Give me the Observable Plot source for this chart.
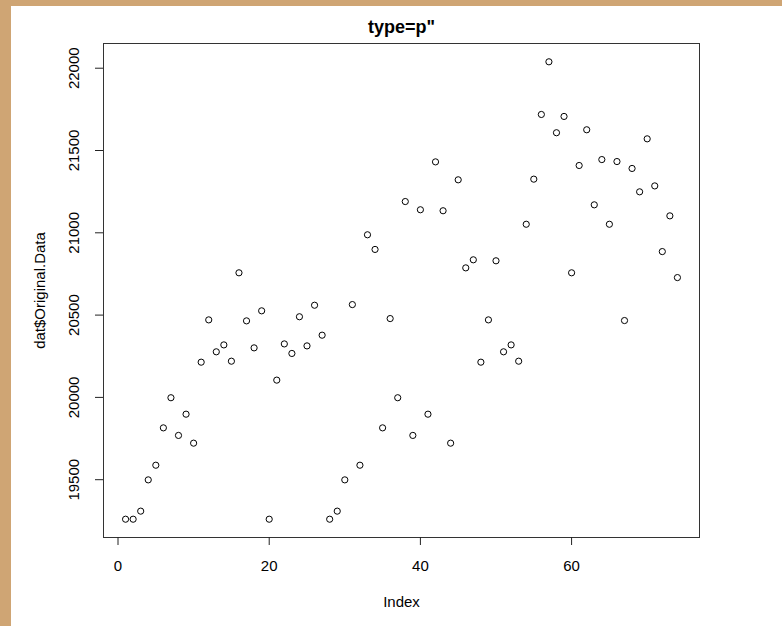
<!DOCTYPE html>
<html>
<head>
<meta charset="utf-8">
<script src="https://cdn.jsdelivr.net/npm/d3@7"></script>
<script src="https://cdn.jsdelivr.net/npm/@observablehq/plot@0.6"></script>
<style>
  html, body { margin: 0; padding: 0; background: #CFA574; width: 782px; height: 626px; overflow: hidden; }
  #panel { position: absolute; left: 11px; top: 6px; width: 771px; height: 620px; background: #fff; }
  svg { display: block; }
</style>
</head>
<body>
<div id="panel"></div>
<script>
// Values (dat$Original.Data by Index)
const values = [
  19260, 19260, 19309, 19499, 19588, 19815, 19998, 19769, 19898, 19722,
  20214, 20471, 20277, 20319, 20220, 20757, 20465, 20301, 20526, 19260,
  20105, 20325, 20267, 20490, 20313, 20560, 20378, 19260, 19309, 19499,
  20564, 19588, 20988, 20899, 19815, 20479, 19998, 21190, 19769, 21140,
  19898, 21431, 21134, 19722, 21322, 20787, 20836, 20214, 20471, 20830,
  20277, 20319, 20220, 21052, 21326, 21719, 22039, 21608, 21707, 20757,
  21409, 21626, 21170, 21445, 21052, 21433, 20467, 21391, 21249, 21571,
  21285, 20886, 21103, 20728
];
const xTicks = [0, 20, 40, 60];
const yTicks = [19500, 20000, 20500, 21000, 21500, 22000];
const titleText = 'type=p"';
const xLabel = "Index";
const yLabel = "dat$Original.Data";

const data = values.map((v, k) => ({index: k + 1, value: v}));

// R-style 4% axis extension
const n = values.length;
const xPad = 0.04 * (n - 1);
const yMin = d3.min(values), yMax = d3.max(values);
const yPad = 0.04 * (yMax - yMin);

const chart = Plot.plot({
  width: 771,
  height: 620,
  marginLeft: 92,
  marginRight: 83,
  marginTop: 37,
  marginBottom: 89,
  style: {fontFamily: "'Liberation Sans', Arial, sans-serif", fontSize: "15px", background: "#fff", color: "#000"},
  x: {domain: [1 - xPad, n + xPad]},
  y: {domain: [yMin - yPad, yMax + yPad]},
  marks: [
    Plot.frame({stroke: "#333", strokeWidth: 1}),
    Plot.axisX(xTicks, {tickSize: 8, tickPadding: 15, label: null, stroke: "#222", fill: "#000", fontSize: 15}),
    Plot.axisY(yTicks, {tickSize: 8, tickFormat: () => "", label: null, stroke: "#222"}),
    Plot.text(yTicks, {frameAnchor: "left", y: d => d, text: d => String(d), rotate: -90, dx: -29, textAnchor: "middle", lineAnchor: "middle", fontSize: 15, fill: "#000"}),
    Plot.dot(data, {x: "index", y: "value", r: 3.1, stroke: "#000", strokeWidth: 1, fill: "none"}),
    Plot.text([titleText], {frameAnchor: "top", text: d => d, dy: -16, fontSize: 18, fontWeight: "bold", lineAnchor: "middle", fill: "#000"}),
    Plot.text([xLabel], {frameAnchor: "bottom", text: d => d, dy: 65, fontSize: 15, lineAnchor: "middle", fill: "#000"}),
    Plot.text([yLabel], {frameAnchor: "left", text: d => d, dx: -63, rotate: -90, fontSize: 15, lineAnchor: "middle", textAnchor: "middle", fill: "#000"})
  ]
});
document.getElementById("panel").appendChild(chart);
</script>
</body>
</html>
